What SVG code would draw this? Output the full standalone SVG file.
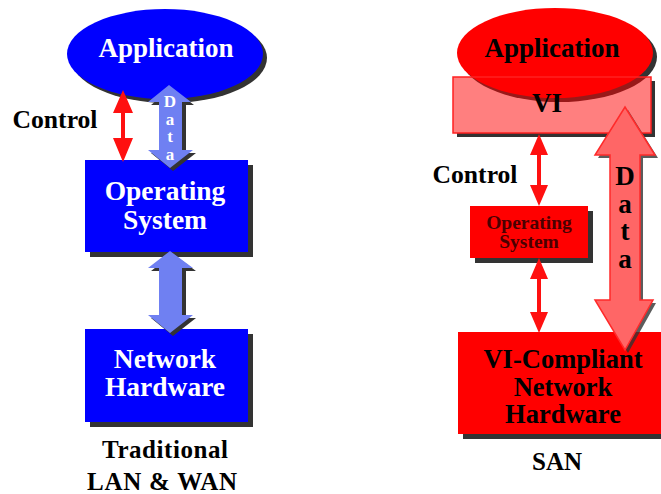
<svg xmlns="http://www.w3.org/2000/svg" width="661" height="494" viewBox="0 0 661 494">
<style>
text{font-family:"Liberation Serif","Times New Roman",serif;font-weight:bold;text-anchor:middle}
.w{fill:#ffffff}
.k{fill:#000000}
.sh{fill:#333333}
.blue{fill:#0000ff}
.red{fill:#ff0000}
.lb{fill:#6f80f2}
.ctl{fill:#ff1010}
</style>
<rect width="661" height="494" fill="#ffffff"/>

<!-- Left: Traditional -->
<g id="app-left">
<ellipse class="sh" cx="169" cy="58" rx="98" ry="45"/>
<ellipse class="blue" cx="165" cy="54" rx="98" ry="45"/>
<text class="w" x="166" y="57" font-size="27">Application</text>
</g>
<g id="os-left">
<rect class="sh" x="90" y="165" width="163" height="92"/>
<rect class="blue" x="85" y="160" width="163" height="92"/>
<text class="w" x="165" y="200" font-size="27.5">Operating</text>
<text class="w" x="165" y="229" font-size="27.5">System</text>
</g>
<g id="nh-left">
<rect class="sh" x="90" y="334" width="163" height="93"/>
<rect class="blue" x="85" y="329" width="163" height="93"/>
<text class="w" x="165" y="368" font-size="27.5">Network</text>
<text class="w" x="165" y="396" font-size="27.5">Hardware</text>
</g>
<g id="label-left">
<text class="k" x="55" y="128" font-size="26" textLength="85" lengthAdjust="spacingAndGlyphs">Control</text>
<text class="k" x="165" y="458" font-size="25" textLength="126" lengthAdjust="spacing">Traditional</text>
<text class="k" x="162" y="490" font-size="25" textLength="150" lengthAdjust="spacing">LAN &amp; WAN</text>
</g>

<!-- Right: SAN -->
<g id="vi-base">
<rect class="sh" x="457" y="81" width="198" height="56"/>
<rect x="453" y="77" width="198" height="56" fill="#ffffff"/>
</g>
<g id="app-right">
<ellipse class="sh" cx="559" cy="57" rx="98" ry="45"/>
<ellipse class="red" cx="555" cy="53" rx="98" ry="45"/>
<text class="k" x="552" y="57" font-size="27">Application</text>
</g>
<g id="vi">
<rect x="453" y="77" width="198" height="56" fill="#ff0000" fill-opacity="0.5" stroke="#ff2020" stroke-width="1.5"/>
<text class="k" x="547" y="112" font-size="27">VI</text>
</g>
<g id="os-right">
<rect class="sh" x="475" y="211" width="118" height="52"/>
<rect class="red" x="470" y="206" width="118" height="52"/>
<text x="529" y="229" font-size="19.5" fill="#4a0000">Operating</text>
<text x="529" y="248" font-size="19.5" fill="#4a0000">System</text>
</g>
<g id="nh-right">
<rect class="sh" x="463" y="337" width="203" height="102"/>
<rect class="red" x="458" y="332" width="210" height="102"/>
<text class="k" x="563" y="368" font-size="26.5">VI-Compliant</text>
<text class="k" x="563" y="396" font-size="26.5">Network</text>
<text class="k" x="563" y="423" font-size="26.5">Hardware</text>
</g>
<g id="label-right">
<text class="k" x="475" y="183" font-size="26" textLength="85" lengthAdjust="spacingAndGlyphs">Control</text>
<text class="k" x="557" y="470" font-size="25" textLength="50" lengthAdjust="spacing">SAN</text>
</g>

<g id="connectors">
<!-- left control arrow -->
<polygon class="ctl" points="123,90 133,113 125,113 125,138 133,138 123,162 113,138 121,138 121,113 113,113"/>
<!-- left data arrow -->
<polygon class="sh" points="172,88 194,105 186,105 186,153 196,153 173,171 151,153 162,153 162,105 151,105"/>
<polygon class="lb" points="169,85 191,102 182,102 182,150 193,150 170,168 148,150 159,150 159,102 148,102"/>
<text class="w" x="170" y="107" font-size="17">D</text>
<text class="w" x="170" y="125" font-size="17">a</text>
<text class="w" x="170" y="142" font-size="17">t</text>
<text class="w" x="170" y="160" font-size="17">a</text>
<!-- left OS to hardware arrow -->
<polygon class="sh" points="173,254 196,271 186,271 186,318 196,318 173,336 151,318 162,318 162,271 151,271"/>
<polygon class="lb" points="170,251 193,268 182,268 182,315 193,315 170,333 148,315 159,315 159,268 148,268"/>
<!-- right control arrows -->
<polygon class="ctl" points="539,134 548,155 541,155 541,185 548,185 539,206 530,185 537,185 537,155 530,155"/>
<polygon class="ctl" points="539,258 548,279 541,279 541,312 548,312 539,333 530,312 537,312 537,279 530,279"/>
<!-- right data arrow -->
<polygon class="sh" points="628,110 658,158 643,158 643,303 656,303 628,353 598,303 613,303 613,158 598,158" opacity="0.8"/>
<polygon points="625,107 655,155 640,155 640,300 653,300 625,350 595,300 610,300 610,155 595,155" fill="#ff6666" stroke="#ff2a2a" stroke-width="1.5"/>
<text class="k" x="625" y="185" font-size="27">D</text>
<text class="k" x="625" y="213" font-size="27">a</text>
<text class="k" x="625" y="240" font-size="27">t</text>
<text class="k" x="625" y="268" font-size="27">a</text>
</g>
</svg>
